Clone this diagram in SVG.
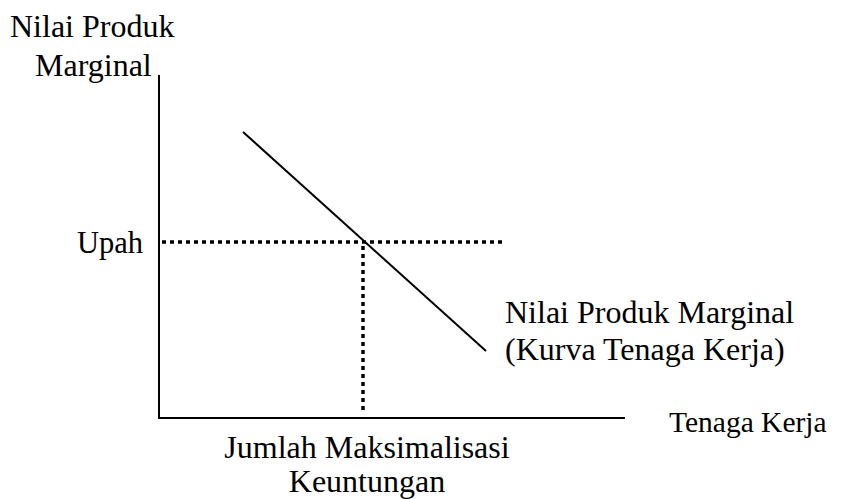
<svg xmlns="http://www.w3.org/2000/svg" width="841" height="499" viewBox="0 0 841 499">
<style>
text{font-family:"Liberation Serif","Times New Roman",serif;font-size:32px;fill:#000}
.ax{stroke:#000;stroke-width:2;fill:none}
.dot{stroke:#000;stroke-width:3.5;stroke-dasharray:4 4;fill:none}
</style>
<rect width="841" height="499" fill="#fff"/>
<g id="connectors">
<line class="ax" x1="159" y1="75" x2="159" y2="419"/>
<line class="ax" x1="158" y1="418" x2="625" y2="418"/>
<line class="ax" x1="243" y1="132" x2="486" y2="351"/>
<line class="dot" x1="162" y1="242" x2="502" y2="242"/>
<line class="dot" x1="363" y1="246" x2="363" y2="414"/>
</g>
<g id="y-label"><text x="10" y="37">Nilai Produk</text><text x="35" y="76">Marginal</text></g>
<g id="upah"><text x="77" y="253" style="font-size:30.5px">Upah</text></g>
<g id="curve-label"><text x="505" y="323">Nilai Produk Marginal</text><text x="505" y="360">(Kurva Tenaga Kerja)</text></g>
<g id="x-label"><text x="669" y="432" style="font-size:29.5px">Tenaga Kerja</text></g>
<g id="q-label"><text x="367" y="458" text-anchor="middle">Jumlah Maksimalisasi</text><text x="367" y="492" text-anchor="middle">Keuntungan</text></g>
</svg>
